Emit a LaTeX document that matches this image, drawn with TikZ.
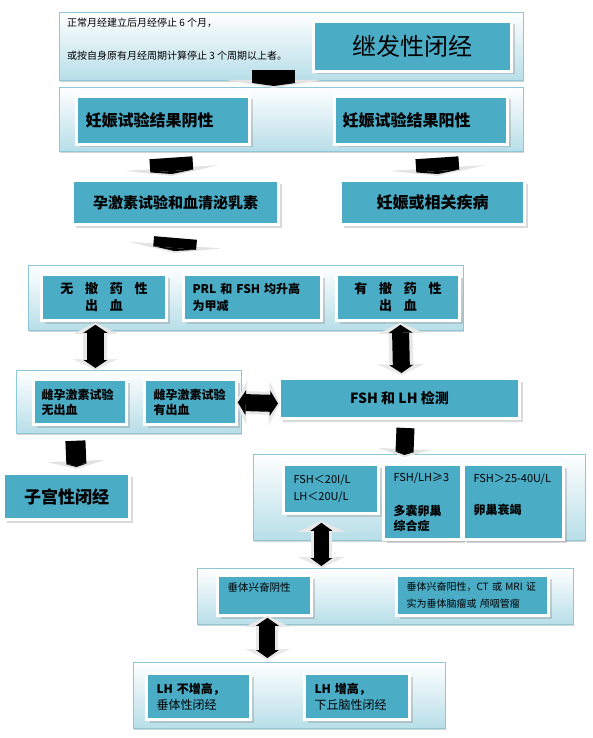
\documentclass[tikz,border=0pt]{standalone}
\usepackage{fontspec}
\setmainfont{Noto Sans CJK SC}
\usetikzlibrary{arrows.meta, shadows}

\definecolor{boxteal}{RGB}{75,172,198}
\definecolor{panelblue}{RGB}{183,222,232}
\definecolor{panelline}{RGB}{141,200,216}

\tikzset{
  panel/.style={draw=panelline, line width=0.8pt, top color=white, bottom color=panelblue,
    anchor=north west, inner sep=0pt,
    drop shadow={shadow xshift=0.8pt, shadow yshift=-1.5pt, opacity=0.35}},
  box/.style={draw=white, line width=3pt, fill=boxteal, anchor=north west, inner sep=0pt,
    drop shadow={shadow xshift=3pt, shadow yshift=-3pt, opacity=0.3}},
  lbox/.style={box, align=left, inner xsep=#1},
  lbox/.default=9pt,
  cbox/.style={box, align=center},
  headgray/.style 2 args={draw=gray!22, line width=#1,
    -{Triangle[width=#2, length=8pt, line width=0pt]}},
  shaftblack/.style={draw=black, line width=#1,
    -{Triangle[width=#1, length=3pt, line width=0pt]}},
  dblgray/.style 2 args={draw=gray!18, line width=#1,
    {Triangle[width=#2, length=11pt, line width=0pt]}-{Triangle[width=#2, length=11pt, line width=0pt]}},
  dblblack/.style 2 args={draw=black, line width=#1,
    {Triangle[width=#2, length=8pt, line width=0pt]}-{Triangle[width=#2, length=8pt, line width=0pt]}}
}

\begin{document}
\begin{tikzpicture}[x=1pt, y=-1pt]
  \useasboundingbox (0,0) rectangle (592,738);

  % panels
  \node[panel, minimum width=464pt, minimum height=68pt] (p1) at (59,12) {};
  \node[panel, minimum width=464pt, minimum height=64pt] (p2) at (59,87) {};
  \node[panel, minimum width=435pt, minimum height=65pt] (p3) at (28,265) {};
  \node[panel, minimum width=225pt, minimum height=63pt] (p4) at (16,370) {};
  \node[panel, minimum width=332pt, minimum height=86pt] (p5) at (253,454) {};
  \node[panel, minimum width=376pt, minimum height=56pt] (p6) at (197,568) {};
  \node[panel, minimum width=312pt, minimum height=66pt] (p7) at (133,662) {};

  % definition text
  \node[anchor=west, inner sep=0pt, font=\fontsize{10}{12}\selectfont] (t11) at (67,23)
    {正常月经建立后月经停止 6 个月，};
  \node[anchor=west, inner sep=0pt, font=\fontsize{10}{12}\selectfont] (t12) at (67,56)
    {或按自身原有月经周期计算停止 3 个周期以上者。};

  % boxes
  \node[cbox, minimum width=198pt, minimum height=50pt, font=\fontsize{24}{28}\selectfont] (b0) at (312,20) {继发性闭经};

  \node[lbox, text width=155pt, minimum height=48pt, font=\bfseries\fontsize{16}{20}\selectfont] (b21) at (75,95) {妊娠试验结果阴性};
  \node[lbox=8pt, text width=157pt, minimum height=48pt, font=\bfseries\fontsize{16}{20}\selectfont] (b22) at (333,95) {妊娠试验结果阳性};

  \node[cbox, minimum width=206pt, minimum height=44pt, font=\bfseries\fontsize{15}{19}\selectfont] (b31) at (71,179) {孕激素试验和血清泌乳素};
  \node[cbox, minimum width=184pt, minimum height=44pt, font=\bfseries\fontsize{16}{20}\selectfont] (b32) at (339,179) {妊娠或相关疾病};

  \node[cbox, minimum width=125pt, minimum height=46pt, font=\bfseries\fontsize{13}{17}\selectfont] (b41) at (40,273)
    {无\hspace{0.9em}撤\hspace{0.9em}药\hspace{0.9em}性\\出\hspace{0.9em}血};
  \node[lbox, text width=120pt, minimum height=46pt, font=\bfseries\fontsize{12}{17}\selectfont] (b42) at (182,273)
    {PRL~和~FSH~均升高\\为甲减};
  \node[cbox, minimum width=123pt, minimum height=46pt, font=\bfseries\fontsize{13}{17}\selectfont] (b43) at (335,273)
    {有\hspace{0.9em}撤\hspace{0.9em}药\hspace{0.9em}性\\出\hspace{0.9em}血};

  \node[lbox=8pt, text width=77pt, minimum height=45pt, font=\bfseries\fontsize{12}{15}\selectfont] (b51) at (32,378) {雌孕激素试验\\无出血};
  \node[lbox, text width=74pt, minimum height=45pt, font=\bfseries\fontsize{12}{15}\selectfont] (b52) at (143,378) {雌孕激素试验\\有出血};
  \node[cbox, minimum width=240pt, minimum height=40pt, font=\bfseries\fontsize{14}{18}\selectfont] (b53) at (278,377) {FSH~和~LH~检测};
  \node[cbox, minimum width=126pt, minimum height=46pt, font=\bfseries\fontsize{17}{21}\selectfont] (b54) at (2,472) {子宫性闭经};

  \node[lbox=10pt, text width=75pt, minimum height=49pt, font=\fontsize{11}{17}\selectfont] (b61) at (282,463) {FSH＜20I/L\\LH＜20U/L};
  \node[lbox=10pt, text width=58pt, minimum height=75pt, font=\fontsize{11}{15}\selectfont] (b62) at (382,463)
    {FSH/LH≥3\\[19pt]{\bfseries\fontsize{12}{15}\selectfont 多囊卵巢}\\{\bfseries\fontsize{12}{15}\selectfont 综合症}};
  \node[lbox=10pt, text width=80pt, minimum height=75pt, font=\fontsize{11}{15}\selectfont] (b63) at (462,463)
    {FSH＞25-40U/L\\[17pt]{\bfseries\fontsize{12}{15}\selectfont 卵巢衰竭}\\\mbox{}};

  \node[lbox=10pt, text width=74pt, minimum height=40pt, font=\fontsize{10.5}{17}\selectfont] (b71) at (216,574) {垂体兴奋阴性\\\mbox{}};
  \node[lbox=10pt, text width=132pt, minimum height=40pt, font=\fontsize{10}{17}\selectfont] (b72) at (395,574)
    {垂体兴奋阳性，CT~或~MRI~证\\实为垂体脑瘤或~颅咽管瘤};

  \node[lbox=10pt, text width=84pt, minimum height=46pt, font=\fontsize{12}{16}\selectfont] (b81) at (145,672)
    {{\bfseries LH~不增高，}\\垂体性闭经};
  \node[lbox=10pt, text width=85pt, minimum height=46pt, font=\fontsize{12}{16}\selectfont] (b82) at (303,672)
    {{\bfseries LH~增高，}\\下丘脑性闭经};

  % down arrows
  \draw[headgray={43pt}{95pt}] ([xshift=-17.5pt, yshift=11pt]p1.south) -- ([xshift=-17.5pt, yshift=-1pt]p2.north);
  \draw[shaftblack=43pt] ([xshift=-17.5pt, yshift=11pt]p1.south) -- ([xshift=-17.5pt, yshift=1pt]p2.north);

  \draw[headgray={43pt}{94pt}] ([xshift=-120.5pt, yshift=-6pt]p2.south) -- ([xshift=-3.5pt, yshift=3pt]b31.north);
  \draw[shaftblack=43pt] ([xshift=-120.5pt, yshift=-6pt]p2.south) -- ([xshift=-3.5pt, yshift=5pt]b31.north);

  \draw[headgray={43pt}{95pt}] ([xshift=145.5pt, yshift=-6pt]p2.south) -- ([xshift=5.5pt, yshift=3pt]b32.north);
  \draw[shaftblack=43pt] ([xshift=145.5pt, yshift=-6pt]p2.south) -- ([xshift=5.5pt, yshift=5pt]b32.north);

  \draw[headgray={43pt}{93pt}] ([yshift=-12pt]b31.south) -- ([xshift=-71.5pt, yshift=12pt]p3.north);
  \draw[shaftblack=43pt] ([yshift=-12pt]b31.south) -- ([xshift=-71.5pt, yshift=14pt]p3.north);

  \draw[headgray={20pt}{58pt}] ([xshift=-53.5pt, yshift=-7pt]p4.south) -- ([xshift=10pt, yshift=3pt]b54.north);
  \draw[shaftblack=20pt] ([xshift=-53.5pt, yshift=-7pt]p4.south) -- ([xshift=10pt, yshift=5pt]b54.north);

  \draw[headgray={18pt}{53pt}] ([xshift=6pt, yshift=-8pt]b53.south) -- ([xshift=-15pt, yshift=-3pt]p5.north);
  \draw[shaftblack=18pt] ([xshift=6pt, yshift=-8pt]b53.south) -- ([xshift=-15pt, yshift=-1pt]p5.north);

  % two-way arrows
  \draw[dblgray={24pt}{45pt}] ([xshift=-150.5pt, yshift=8pt]p3.south) -- ([xshift=-33.5pt]p4.north);
  \draw[dblblack={17pt}{24pt}] ([xshift=-150.5pt, yshift=6pt]p3.south) -- ([xshift=-33.5pt, yshift=2pt]p4.north);

  \draw[dblgray={24pt}{48pt}] ([xshift=154.5pt, yshift=8pt]p3.south) -- ([xshift=2pt, yshift=2pt]b53.north);
  \draw[dblblack={17pt}{24pt}] ([xshift=154.5pt, yshift=6pt]p3.south) -- ([xshift=2pt, yshift=4pt]b53.north);

  \draw[dblgray={23pt}{45pt}] ([xshift=-6pt, yshift=-0.5pt]p4.east) -- ([xshift=2pt, yshift=-5pt]b53.west);
  \draw[dblblack={17pt}{25pt}] ([xshift=-4pt, yshift=-0.5pt]p4.east) -- ([yshift=-5pt]b53.west);

  \draw[dblgray={21pt}{47pt}] ([xshift=-98pt, yshift=20pt]p5.south) -- ([xshift=-64pt]p6.north);
  \draw[dblblack={15pt}{22pt}] ([xshift=-98pt, yshift=18pt]p5.south) -- ([xshift=-64pt, yshift=2pt]p6.north);

  \draw[dblgray={22pt}{45pt}] ([xshift=-118pt, yshift=9pt]p6.south) -- ([xshift=-22pt, yshift=2pt]p7.north);
  \draw[dblblack={16pt}{23pt}] ([xshift=-118pt, yshift=7pt]p6.south) -- ([xshift=-22pt, yshift=4pt]p7.north);
\end{tikzpicture}
\end{document}
